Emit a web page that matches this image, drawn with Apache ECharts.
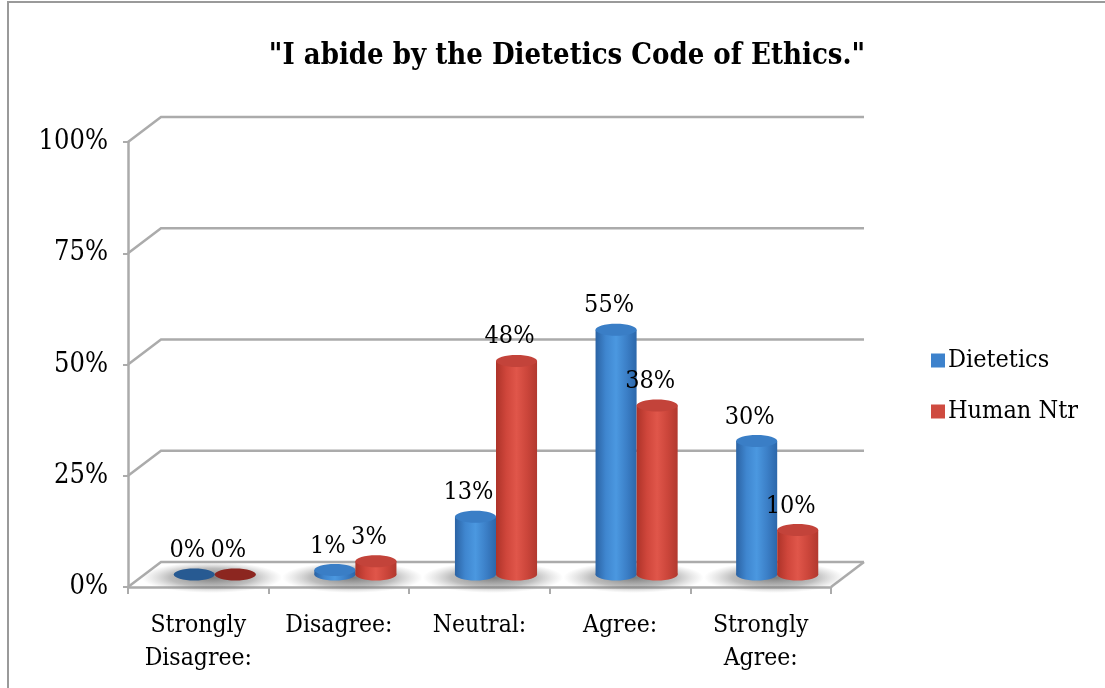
<!DOCTYPE html>
<html>
<head>
<meta charset="utf-8">
<style>
  html, body { margin: 0; padding: 0; background: #fff; }
  #chart { width: 1105px; height: 688px; }
</style>
<script src="https://cdn.jsdelivr.net/npm/echarts@6/dist/echarts.min.js"></script>
</head>
<body>
<div id="chart"></div>
<script>
// Survey responses, percent of each group
const categories = ['Strongly\nDisagree:', 'Disagree:', 'Neutral:', 'Agree:', 'Strongly\nAgree:'];
const dietetics = [0, 1, 13, 55, 30];
const humanNtr = [0, 3, 48, 38, 10];
const yTicks = [0, 25, 50, 75, 100];
const seriesNames = ['Dietetics', 'Human Ntr'];
const titleText = '"I abide by the Dietetics Code of Ethics."';

const FONT = '"DejaVu Serif Condensed", "Liberation Serif", serif';
const DEPTH_X = 33, DEPTH_Y = -25;      // back-wall offset of the 3D box
const GRID_COLOR = '#ababab';

const palettes = [
  { body: ['#2b63a4', '#3f86cf', '#4b98e0', '#3c80c8', '#2c67aa'], top: '#3a7ec6', flat: '#275a92', legend: '#3d82cc' },
  { body: ['#ad3329', '#cf463b', '#e0564a', '#cc463b', '#b2392f'], top: '#c3433a', flat: '#8c2620', legend: '#cf4b40' }
];

const chart = echarts.init(document.getElementById('chart'));

// Walls and floor: one polyline per y tick, through the axis scale
function renderWalls(params, api) {
  const cs = params.coordSys;
  const v = api.value(0);
  const p = api.coord([0, v]);
  const y = p[1];
  const x0 = cs.x, x1 = cs.x + cs.width;
  const children = [{
    type: 'polyline',
    shape: { points: [[x0, y], [x0 + DEPTH_X, y + DEPTH_Y], [x1 + DEPTH_X, y + DEPTH_Y]] },
    style: { stroke: GRID_COLOR, lineWidth: 2.5, fill: null },
    silent: true
  }];
  if (v === 0) {
    children.push({
      type: 'line',
      shape: { x1: x1, y1: y, x2: x1 + DEPTH_X, y2: y + DEPTH_Y },
      style: { stroke: GRID_COLOR, lineWidth: 2.5 },
      silent: true
    });
  }
  return { type: 'group', children: children };
}

function cylinderSeries(idx, data) {
  const pal = palettes[idx];
  return {
    name: seriesNames[idx],
    type: 'custom',
    z: 5,
    itemStyle: { color: pal.legend },
    data: data.map((v, i) => [i, v]),
    encode: { x: 0, y: 1 },
    renderItem: function (params, api) {
      const cat = api.value(0);
      const val = api.value(1);
      const top = api.coord([cat, val]);
      const base = api.coord([cat, 0]);
      const band = api.size([1, 0])[0];
      const w = band * 0.292;
      const cx = top[0] + DEPTH_X / 2 + (idx === 0 ? -w / 2 : w / 2);
      const yTop = top[1] + DEPTH_Y / 2;
      const yBase = base[1] + DEPTH_Y / 2;
      const rx = w / 2, ry = 6;
      const bodyFill = {
        type: 'linear', x: 0, y: 0, x2: 1, y2: 0,
        colorStops: pal.body.map((c, k) => ({ offset: k / (pal.body.length - 1), color: c }))
      };
      const children = [];
      const h = yBase - yTop;
      if (h > 1) {
        children.push({
          type: 'ellipse',
          shape: { cx: cx, cy: yBase, rx: rx, ry: ry },
          style: { fill: bodyFill }
        });
        children.push({
          type: 'rect',
          shape: { x: cx - rx, y: yTop, width: w, height: h },
          style: { fill: bodyFill }
        });
        children.push({
          type: 'ellipse',
          shape: { cx: cx, cy: yTop, rx: rx, ry: ry },
          style: { fill: pal.top }
        });
      } else {
        children.push({
          type: 'ellipse',
          shape: { cx: cx, cy: yBase, rx: rx, ry: ry },
          style: { fill: pal.flat }
        });
      }
      children.push({
        type: 'text',
        x: cx - 7,
        y: yTop - 24,
        style: {
          text: val + '%',
          fill: '#000',
          font: '25px ' + FONT,
          align: 'center',
          verticalAlign: 'middle'
        }
      });
      return { type: 'group', children: children };
    }
  };
}

// Soft floor shadow beneath each pair of cylinders
function renderShadow(params, api) {
  const cat = api.value(0);
  const base = api.coord([cat, 0]);
  const band = api.size([1, 0])[0];
  const cx = base[0] + DEPTH_X / 2 - 3;
  const cy = base[1] + DEPTH_Y / 2 + 3;
  const R = band * 0.5;
  return {
    type: 'circle',
    shape: { cx: 0, cy: 0, r: R },
    x: cx, y: cy,
    scaleY: 0.22,
    silent: true,
    style: {
      fill: {
        type: 'radial', x: 0.5, y: 0.5, r: 0.5,
        colorStops: [
          { offset: 0, color: 'rgba(80,80,80,0.75)' },
          { offset: 0.6, color: 'rgba(110,110,110,0.45)' },
          { offset: 1, color: 'rgba(150,150,150,0)' }
        ]
      }
    }
  };
}

const option = {
  backgroundColor: '#ffffff',
  animation: false,
  graphic: [
    {
      type: 'polyline',
      shape: { points: [[8, 700], [8, 2], [1110, 2]] },
      style: { stroke: '#9a9a9a', lineWidth: 2, fill: null },
      silent: true
    },
    {
      type: 'text',
      x: 567, y: 56,
      style: {
        text: titleText,
        font: 'bold 29px ' + FONT,
        fill: '#000',
        align: 'center',
        verticalAlign: 'middle'
      }
    }
  ],
  legend: {
    data: seriesNames,
    orient: 'vertical',
    left: 926,
    top: 343,
    itemWidth: 14,
    itemHeight: 14,
    itemGap: 26,
    icon: 'rect',
    textStyle: { fontFamily: FONT, fontSize: 25, color: '#000', padding: [0, 0, 0, -2] }
  },
  grid: { left: 128, right: 1105 - 831, top: 142, bottom: 688 - 587, containLabel: false },
  xAxis: {
    type: 'category',
    data: categories,
    boundaryGap: true,
    axisLine: { show: true, lineStyle: { color: GRID_COLOR, width: 2.5 } },
    axisTick: { show: true, length: 7, lineStyle: { color: GRID_COLOR, width: 2 } },
    axisLabel: {
      interval: 0,
      margin: 22,
      fontFamily: FONT,
      fontSize: 24.5,
      lineHeight: 33,
      color: '#000'
    },
    splitLine: { show: false }
  },
  yAxis: {
    type: 'value',
    min: 0,
    max: 100,
    interval: 25,
    axisLine: { show: true, lineStyle: { color: GRID_COLOR, width: 2.5 } },
    axisTick: { show: true, length: 5, lineStyle: { color: GRID_COLOR, width: 2 } },
    axisLabel: {
      margin: 20,
      formatter: '{value}%',
      fontFamily: FONT,
      fontSize: 27,
      color: '#000'
    },
    splitLine: { show: false }
  },
  series: [
    {
      type: 'custom',
      name: 'walls',
      z: 1,
      silent: true,
      data: yTicks.map(v => [v]),
      encode: { y: 0 },
      renderItem: renderWalls
    },
    {
      type: 'custom',
      name: 'shadow',
      z: 2,
      silent: true,
      data: categories.map((c, i) => [i, 0]),
      encode: { x: 0, y: 1 },
      renderItem: renderShadow
    },
    cylinderSeries(0, dietetics),
    cylinderSeries(1, humanNtr)
  ]
};

chart.setOption(option);
</script>
</body>
</html>
